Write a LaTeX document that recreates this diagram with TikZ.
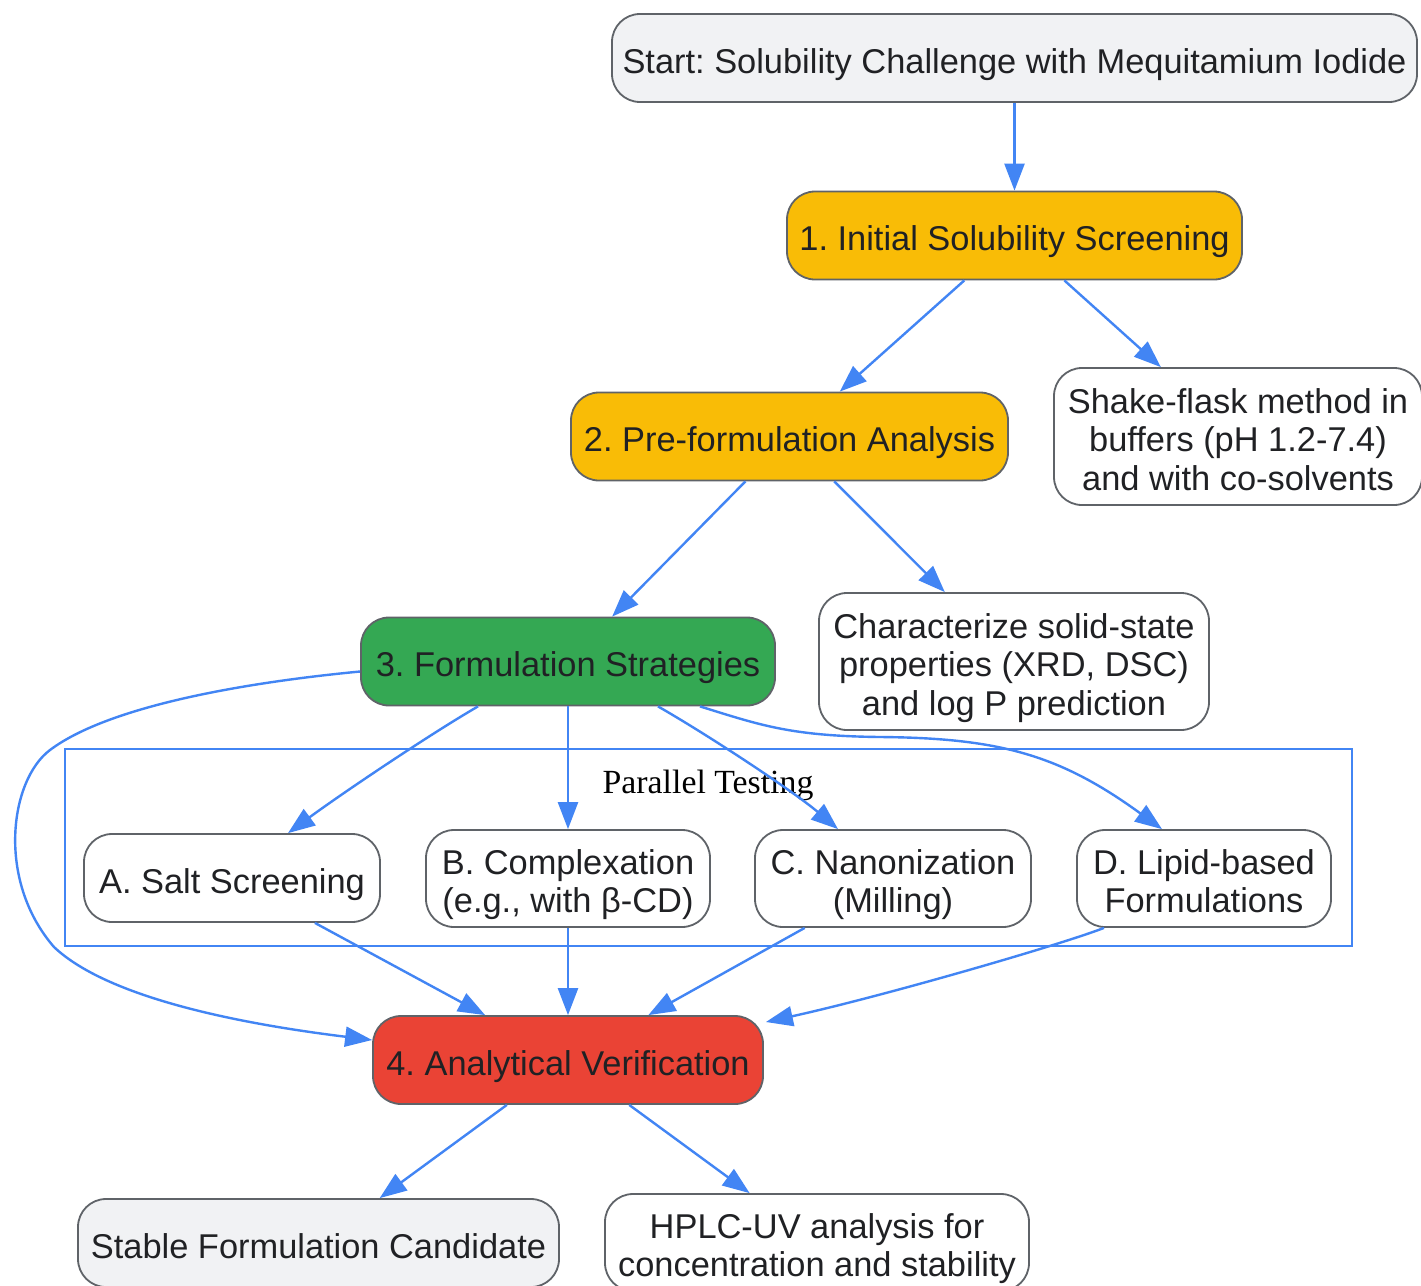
\documentclass[tikz,border=0pt]{standalone}
\usepackage{fontspec}
\setmainfont{Liberation Sans}
\newfontfamily\labelserif{Liberation Serif}
\usetikzlibrary{arrows.meta,calc}
\definecolor{edgeblue}{HTML}{4285F4}
\definecolor{bordergray}{HTML}{5F6368}
\definecolor{textdark}{HTML}{202124}
\definecolor{lightfill}{HTML}{F1F2F4}
\definecolor{amber}{HTML}{F9BC06}
\definecolor{gfill}{HTML}{34A853}
\definecolor{rfill}{HTML}{EA4335}
\newcommand\mytop{\rule{0pt}{38pt}}
\newcommand\mybot{\rule[-8pt]{0pt}{8pt}}
\frenchspacing
\begin{document}
\begin{tikzpicture}[x=1pt,y=-1pt,
  box/.style={draw=bordergray, line width=1.8pt, rounded corners=28pt,
    minimum height=88pt, inner sep=0pt, align=center, fill=white,
    font=\fontsize{34.4}{38.5}\selectfont\frenchspacing, text=textdark},
  tall/.style={minimum height=97pt},
  taller/.style={minimum height=137pt},
  arr/.style={draw=edgeblue, line width=2.4pt, -{Triangle[length=27pt,width=20pt]}},
  clusterbox/.style={draw=edgeblue, line width=2pt, inner sep=0pt}
]
\useasboundingbox (0,0) rectangle (1421,1285);
\fill[white] (0,0) rectangle (1421,1285);

% cluster
\node[clusterbox, minimum width=1287pt, minimum height=197pt] (cluster) at (708.5,847.5) {};
\node[font=\labelserif\fontsize{33.8}{38}\selectfont, text=black, inner sep=0pt] (cltitle) at (708,785) {Parallel Testing};

% nodes
\node[box, fill=lightfill, minimum width=805pt] (start) at (1014.5,58) {\mytop Start: Solubility Challenge with Mequitamium Iodide\mybot};
\node[box, fill=amber, minimum width=455pt] (n1) at (1014.5,235.5) {\mytop 1. Initial Solubility Screening\mybot};
\node[box, taller, minimum width=368pt] (shake) at (1238,436.5) {\mytop Shake-flask method in\\buffers (pH 1.2-7.4)\\and with co-solvents\mybot};
\node[box, fill=amber, minimum width=437pt] (n2) at (789.5,436.5) {\mytop 2. Pre-formulation Analysis\mybot};
\node[box, taller, minimum width=390pt] (char) at (1014,661.5) {\mytop Characterize solid-state\\properties (XRD, DSC)\\and log P prediction\mybot};
\node[box, fill=gfill, minimum width=414pt] (n3) at (568,661.5) {\mytop 3. Formulation Strategies\mybot};
\node[box, minimum width=296pt] (A) at (232,878) {\mytop A. Salt Screening\mybot};
\node[box, tall, minimum width=284pt] (B) at (568,878.5) {\mytop B. Complexation\\(e.g., with β-CD)\mybot};
\node[box, tall, minimum width=276pt] (C) at (893,878.5) {\mytop C. Nanonization\\(Milling)\mybot};
\node[box, tall, minimum width=254pt] (D) at (1204,878.5) {\mytop D. Lipid-based\\Formulations\mybot};
\node[box, fill=rfill, minimum width=390pt] (n4) at (568,1060) {\mytop 4. Analytical Verification\mybot};
\node[box, fill=lightfill, minimum width=481pt] (stable) at (318.5,1243) {\mytop Stable Formulation Candidate\mybot};
\node[box, tall, minimum width=424pt] (hplc) at (817,1242.5) {\mytop HPLC-UV analysis for\\concentration and stability\mybot};

% edges
\draw[arr] (start) -- (n1);
\draw[arr] (n1) -- (n2);
\draw[arr] (n1) -- (shake);
\draw[arr] (n2) -- (n3);
\draw[arr] (n2) -- (char);
\draw[arr] ($(n3.south)+(-90,0)$) .. controls (432,733) and (344,792) .. ($(A.north)+(56,0)$);
\draw[arr] (n3) -- (B);
\draw[arr] ($(n3.south)+(90,0)$) .. controls (708,735) and (793,791) .. ($(C.north)+(-55,0)$);
\draw[arr] ($(n3.south)+(132,0)$) .. controls (760,725) and (790,736) .. (880,737)
  .. controls (1000,738) and (1060,755) .. ($(D.north)+(-42,0)$);
\draw[arr] ($(n3.west)+(0,10)$) .. controls (250,682) and (110,705) .. (50,750)
  .. controls (10,780) and (-4,880) .. (54,947)
  .. controls (110,1000) and (250,1025) .. ($(n4.west)+(0,-20)$);
\draw[arr] (A) -- (n4);
\draw[arr] (B) -- (n4);
\draw[arr] (C) -- (n4);
\draw[arr] ($(D.south)+(-100,0)$) .. controls (1060,945) and (880,997) .. ($(n4.east)+(2,-38)$);
\draw[arr] (n4) -- (stable);
\draw[arr] (n4) -- (hplc);
\end{tikzpicture}
\end{document}
